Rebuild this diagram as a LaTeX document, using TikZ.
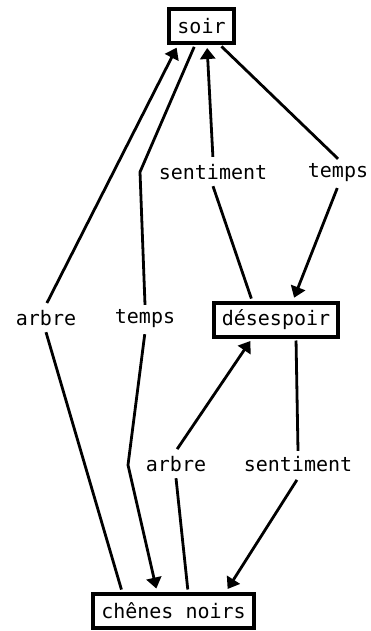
\documentclass[tikz,border=0pt]{standalone}
\usepackage{fontspec}
\setmonofont{DejaVu Sans Mono}
\usetikzlibrary{arrows.meta}
\tikzset{
  word/.style={draw, line width=4pt, font=\ttfamily\fontsize{20}{24}\selectfont,
    inner xsep=8.3pt, inner ysep=0pt, minimum height=34pt, fill=white},
  rel/.style={font=\ttfamily\fontsize{20}{24}\selectfont, inner sep=0pt, minimum height=27pt},
  link/.style={line width=2.8pt, shorten <=2pt},
  linkto/.style={link, -{Triangle[length=11pt,width=15pt]}, shorten >=3pt}
}

\begin{document}
\begin{tikzpicture}[x=1pt,y=-1pt]
      \useasboundingbox (0,0) rectangle (370,631);
      \node[word](soir) at (201.5,26){soir};
      \node[word](desespoir) at (276,319.5){désespoir};
      \node[word](chenes) at (173.5,610.5){chênes noirs};
      % edge labels
      \node[rel](sentA) at (213,172.5){sentiment};
      \node[rel](tempsA) at (338,172.5){temps};
      \node[rel](arbreA) at (46,318.5){arbre};
      \node[rel](tempsB) at (145,318.5){temps};
      \node[rel](arbreB) at (176,464.5){arbre};
      \node[rel](sentB) at (298,464.5){sentiment};
      \coordinate (bendA) at (140,172);
      \coordinate (bendB) at (128,465);
      % chenes noirs -> soir
      \draw[link] ([xshift=-51.5pt]chenes.north) -- (arbreA.south);
      \draw[linkto] (arbreA.north) -- ([xshift=-23.5pt]soir.south);
      % soir -> chenes noirs
      \draw[link] ([xshift=-6.5pt]soir.south) -- (bendA) -- (tempsB.north);
      \draw[linkto] (tempsB.south) -- (bendB) -- ([xshift=-16.5pt]chenes.north);
      % desespoir -> soir
      \draw[link] ([xshift=-24pt]desespoir.north) -- (sentA.south);
      \draw[linkto] (sentA.north) -- ([xshift=5.5pt]soir.south);
      % soir -> desespoir
      \draw[link] ([xshift=18.5pt]soir.south) -- (tempsA.north);
      \draw[linkto] (tempsA.south) -- ([xshift=17pt]desespoir.north);
      % chenes noirs -> desespoir
      \draw[link] ([xshift=14.5pt]chenes.north) -- (arbreB.south);
      \draw[linkto] (arbreB.north) -- ([xshift=-24pt]desespoir.south);
      % desespoir -> chenes noirs
      \draw[link] ([xshift=20pt]desespoir.south) -- (sentB.north);
      \draw[linkto] (sentB.south) -- ([xshift=52.5pt]chenes.north);
\end{tikzpicture}
\end{document}
